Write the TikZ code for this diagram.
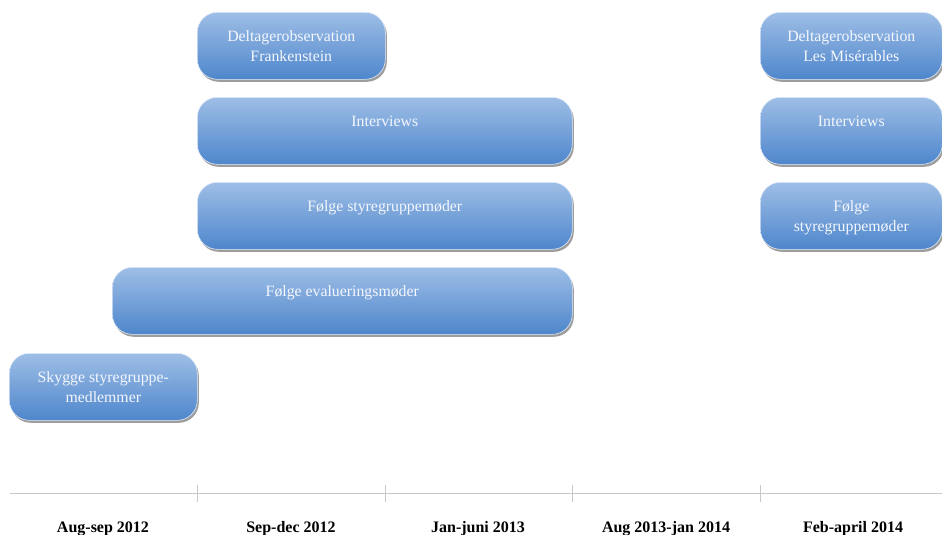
\documentclass[tikz,border=0pt]{standalone}
\usepackage{fontspec}
\setmainfont{Liberation Serif}
\usetikzlibrary{shadows,shadings}
\definecolor{boxtop}{RGB}{158,190,230}
\definecolor{boxbot}{RGB}{78,134,204}
\definecolor{axisgray}{RGB}{200,200,200}
\definecolor{txt}{RGB}{244,247,252}
\newcommand\bxt[2]{\parbox[c][67pt][t]{#1}{\centering\rule{0pt}{29pt}#2}}
\tikzset{
  phase/.style={rounded corners=20pt, top color=boxtop, bottom color=boxbot,
    draw=white!70!boxtop, line width=0.6pt, inner sep=0pt, anchor=north west,
    minimum height=67pt, text=txt, font=\fontsize{15.8}{20}\selectfont,
    drop shadow={shadow xshift=1.5pt, shadow yshift=-2.5pt, opacity=0.55, fill=black!70}},
  axisline/.style={draw=axisgray, line width=1pt},
  period/.style={font=\bfseries\fontsize{16}{18}\selectfont, anchor=base}
}
\begin{document}
\begin{tikzpicture}[x=1pt,y=1pt]
\useasboundingbox (0,0) rectangle (942,-535);
\begin{scope}
\clip (0,0) rectangle (942,-535);
\node[phase, minimum width=188pt] (dfr) at (197,-12) {\bxt{188pt}{Deltagerobservation\\Frankenstein}};
\node[phase, minimum width=375pt] (int1) at (197,-97) {\bxt{375pt}{Interviews}};
\node[phase, minimum width=375pt] (sty1) at (197,-182) {\bxt{375pt}{Følge styregruppemøder}};
\node[phase, minimum width=460pt] (eva) at (112,-267) {\bxt{460pt}{Følge evalueringsmøder}};
\node[phase, minimum width=188pt] (sky) at (9,-353) {\bxt{188pt}{Skygge styregruppe-\\medlemmer}};
\node[phase, minimum width=182pt] (dlm) at (760,-12) {\bxt{182pt}{Deltagerobservation\\Les Misérables}};
\node[phase, minimum width=182pt] (int2) at (760,-97) {\bxt{182pt}{Interviews}};
\node[phase, minimum width=182pt] (sty2) at (760,-182) {\bxt{182pt}{Følge\\styregruppemøder}};
\end{scope}
\coordinate (a0) at (10,-493);
\coordinate (a1) at (942,-493);
\draw[axisline] (a0) -- (a1);
\foreach \x [count=\i] in {197,385,572,760}{
  \coordinate (t\i a) at (\x,-485);
  \coordinate (t\i b) at (\x,-502);
  \draw[axisline] (t\i a) -- (t\i b);
}
\node[period] (p1) at (103,-532) {Aug-sep 2012};
\node[period] (p2) at (291,-532) {Sep-dec 2012};
\node[period] (p3) at (478,-532) {Jan-juni 2013};
\node[period] (p4) at (666,-532) {Aug 2013-jan 2014};
\node[period] (p5) at (853,-532) {Feb-april 2014};
\end{tikzpicture}
\end{document}
